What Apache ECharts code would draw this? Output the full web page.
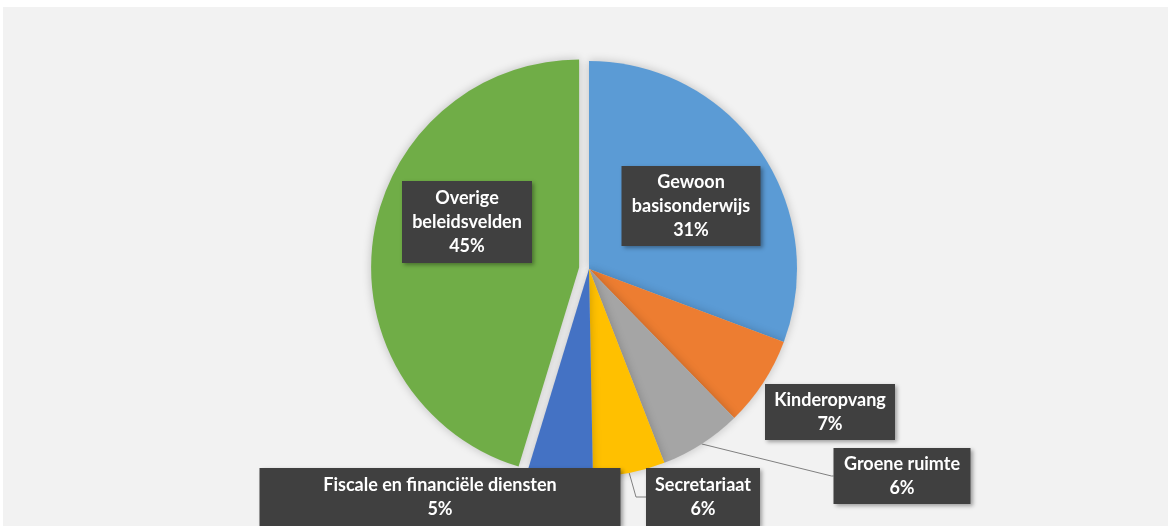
<!DOCTYPE html>
<html>
<head>
<meta charset="utf-8">
<script src="https://cdn.jsdelivr.net/npm/echarts@6/dist/echarts.min.js"></script>
<style>
  html, body { margin: 0; padding: 0; background: #fff; }
  #chart {
    position: absolute;
    left: 3px;
    top: 7px;
    width: 1165px;
    height: 519px;
    background: #f2f2f2;
  }
</style>
</head>
<body>
<div id="chart"></div>
<script>
// data
const categories = ['Gewoon\nbasisonderwijs', 'Kinderopvang', 'Groene ruimte', 'Secretariaat', 'Fiscale en financiële diensten', 'Overige\nbeleidsvelden']
const shares = [30.7, 7.0, 6.4, 5.6, 5.0, 45.3]
const colors = ['#5b9bd5', '#ed7d31', '#a5a5a5', '#ffc000', '#4472c4', '#70ad47']
const exploded = 5 // index of the pulled-out slice

// label box layout (center x, y, box width, vertical padding, leader elbow)
const labelBoxes = [
  { x: 688, y: 199, w: 139, pad: 4, line: 0 },
  { x: 827, y: 405, w: 130, pad: 4, line: 0 },
  { x: 899, y: 469, w: 137, pad: 4, line: 2 },
  { x: 700, y: 490, w: 114, pad: 5, line: 10 },
  { x: 437, y: 490, w: 361, pad: 5, line: 0 },
  { x: 464, y: 215, w: 130, pad: 5, line: 0 }
]

const pieCenter = [586, 262]
const pieRadius = 208
const explodeOffset = 10

const total = shares.reduce((a, b) => a + b, 0)

// middle angle of a slice, clockwise from top
const midAngle = (idx) => {
  let before = 0
  for (let i = 0; i < idx; i++) before += shares[i]
  return ((before + shares[idx] / 2) / total) * Math.PI * 2
}

const exAngle = midAngle(exploded)
const exCenter = [
  pieCenter[0] + explodeOffset * Math.sin(exAngle),
  pieCenter[1] - explodeOffset * Math.cos(exAngle)
]

const pieShadow = { shadowBlur: 10, shadowColor: 'rgba(0, 0, 0, 0.22)' }
const hidden = { color: 'rgba(0,0,0,0)', shadowBlur: 0 }

const chart = echarts.init(document.getElementById('chart'))

const option = {
  animation: false,
  series: [
    // pulled-out slice
    {
      type: 'pie',
      center: exCenter,
      radius: pieRadius,
      startAngle: 90,
      silent: true,
      label: { show: false },
      labelLine: { show: false },
      data: shares.map((v, i) => ({
        value: v,
        name: categories[i],
        itemStyle: i === exploded ? Object.assign({ color: colors[i] }, pieShadow) : hidden
      }))
    },
    // remaining slices and all labels
    {
      type: 'pie',
      center: pieCenter,
      radius: pieRadius,
      startAngle: 90,
      emphasis: { disabled: true },
      label: {
        show: true,
        color: '#fff',
        fontFamily: 'Lato',
        fontWeight: 'bold',
        fontSize: 18,
        lineHeight: 24,
        align: 'center',
        backgroundColor: '#404040',
        shadowBlur: 4,
        shadowOffsetX: 2,
        shadowOffsetY: 2,
        shadowColor: 'rgba(0, 0, 0, 0.35)',
        formatter: (p) => p.name + '\n' + Math.round(p.percent) + '%'
      },
      labelLine: {
        show: true,
        lineStyle: { color: '#7f7f7f', width: 1 }
      },
      labelLayout: (params) => {
        const box = labelBoxes[params.dataIndex]
        const res = { x: box.x, y: box.y, align: 'center', verticalAlign: 'middle' }
        if (box.line) {
          const a = midAngle(params.dataIndex)
          const sx = pieCenter[0] + pieRadius * Math.sin(a)
          const sy = pieCenter[1] - pieRadius * Math.cos(a)
          const left = box.x - box.w / 2
          res.labelLinePoints = [[sx, sy], [left - box.line, box.y], [left, box.y]]
        }
        return res
      },
      data: shares.map((v, i) => ({
        value: v,
        name: categories[i],
        itemStyle: i === exploded ? hidden : Object.assign({ color: colors[i] }, pieShadow),
        label: {
          width: labelBoxes[i].w,
          padding: [labelBoxes[i].pad, 0]
        },
        labelLine: { show: labelBoxes[i].line > 0 }
      }))
    }
  ]
}

chart.setOption(option)
</script>
</body>
</html>
